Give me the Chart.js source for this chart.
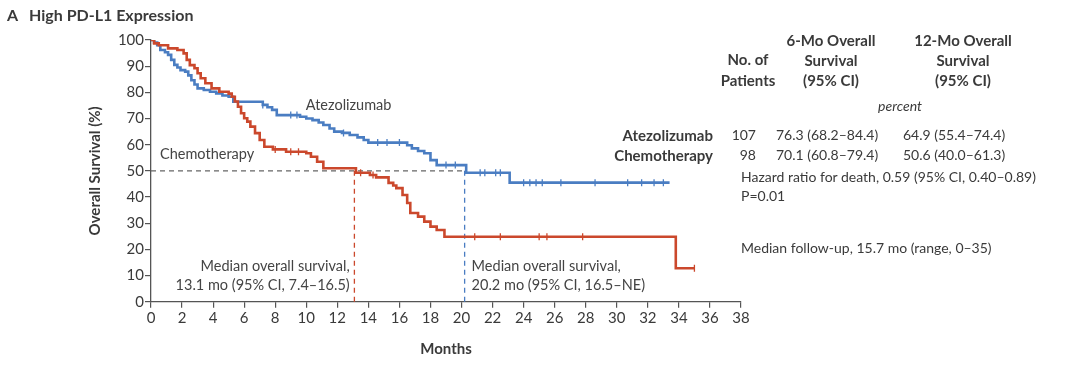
<!DOCTYPE html>
<html>
<head>
<meta charset="utf-8">
<script src="https://cdn.jsdelivr.net/npm/chart.js@4"></script>
<style>
  body { margin: 0; background: #fff; }
  #wrap { position: relative; width: 1080px; height: 366px; font-family: Lato, sans-serif; color: #3a3a3a; }
  .t { position: absolute; white-space: nowrap; line-height: 1; font-size: 14px; transform: translateY(-50%); }
  .c { transform: translate(-50%, -50%); text-align: center; }
  .r { transform: translate(-100%, -50%); text-align: right; }
  .b { font-weight: bold; font-size: 15px; }
  .h { font-weight: bold; font-size: 16px; }
  .i { font-style: italic; }
</style>
</head>
<body>
<div id="wrap">
  <canvas id="chart" width="1080" height="366"></canvas>
</div>
<script>
// Kaplan-Meier steps: month where the curve drops, survival (%) after it
const atezoMonths = [0, 0.2, 0.4, 0.6, 0.9, 1.1, 1.3, 1.5, 1.7, 1.9, 2.2, 2.4, 2.6, 2.8, 3.0, 3.4, 3.8, 4.2, 4.6, 5.0, 5.3,
  7.2, 7.5, 7.8, 8.1, 9.6, 10.0, 10.4, 10.8, 11.1, 11.5, 11.8, 12.3, 12.8, 13.3, 13.7, 14.0,
  16.5, 16.8, 17.2, 17.6, 18.0, 18.4, 20.3, 23.1, 33.4];
const atezoSurv = [100, 99, 98, 96.2, 95.3, 94.3, 92.4, 90.5, 89.5, 88.5, 87.9, 86.5, 84.6, 83, 81.5, 80.9, 80.2, 79.6, 78.8, 78.3, 76.4,
  75.2, 74.3, 73.3, 71.3, 70.7, 70, 69.4, 68.5, 67.5, 66.2, 65, 64.5, 63.7, 62.8, 61.8, 60.8,
  59.8, 58.6, 57.6, 56.7, 54.1, 52.2, 49.3, 45.5, 45.5];

const chemoMonths = [0, 0.2, 0.5, 1.1, 1.7, 2.1, 2.3, 2.5, 2.8, 3.0, 3.2, 3.5, 3.9, 4.4, 5.0, 5.2, 5.4, 5.6, 5.8, 6.0,
  6.2, 6.4, 6.7, 7.0, 7.3, 7.85, 8.7, 10.0, 10.3, 10.7, 11.1, 13.2, 14.1, 14.5, 15.3, 15.6, 15.8,
  16.2, 16.5, 16.7, 17.2, 17.6, 18.0, 18.4, 18.9, 33.8, 35];
const chemoSurv = [100, 98.7, 98, 96.8, 96.2, 94.9, 92.4, 90.4, 89.2, 87.3, 85.4, 83.5, 81.5, 80.2, 79.5, 78.3, 76.5, 74.5, 72, 70.1,
  68.8, 66.9, 64.4, 61.8, 59.2, 58.2, 57.3, 56.7, 55.4, 53.5, 51, 49.3, 48.4, 47.5, 45.4, 44.4, 43.4,
  40.8, 37.7, 33.9, 32.5, 30.6, 28.7, 27.4, 24.8, 12.8, 12.8];

// censored observations (months)
const atezoCensor = [7.2, 9.0, 9.4, 12.4, 14.6, 15.2, 16.0, 19.0, 19.6, 21.2, 21.5, 22.2, 22.5,
  24.0, 24.4, 24.8, 25.2, 26.4, 28.6, 30.7, 31.6, 32.4, 33.0];
const chemoCensor = [8.0, 9.0, 9.5, 13.5, 14.3, 20.85, 22.5, 25.0, 25.5, 27.8, 35];

const medianAtezo = 20.2;
const medianChemo = 13.1;

const tableHead = [
  ['No. of', 'Patients'],
  ['6-Mo Overall', 'Survival', '(95% CI)'],
  ['12-Mo Overall', 'Survival', '(95% CI)']
];
const tableRows = [
  ['Atezolizumab', '107', '76.3 (68.2–84.4)', '64.9 (55.4–74.4)'],
  ['Chemotherapy', '98', '70.1 (60.8–79.4)', '50.6 (40.0–61.3)']
];
const notes = ['Hazard ratio for death, 0.59 (95% CI, 0.40–0.89)', 'P=0.01', 'Median follow-up, 15.7 mo (range, 0–35)'];

const BLUE = '#4a7dc2';
const RED = '#cb482c';
const TEXT = '#3a3a3a';

function survAt(months, surv, t) {
  let v = surv[0];
  for (let i = 0; i < months.length; i++) if (months[i] <= t) v = surv[i];
  return v;
}
const pts = (m, s) => m.map((x, i) => ({x, y: s[i]}));
const censorPts = (c, m, s) => c.map(x => ({x, y: survAt(m, s, x)}));

// html text (title, table, notes)
const wrap = document.getElementById('wrap');
function put(text, x, y, cls) {
  const el = document.createElement('div');
  el.className = 't ' + (cls || '');
  el.textContent = text;
  el.style.left = x + 'px';
  el.style.top = y + 'px';
  wrap.appendChild(el);
}
put('A', 7, 15, 'h');
put('High PD-L1 Expression', 29, 15, 'h');
put(tableHead[0][0], 748, 59, 'b c');
put(tableHead[0][1], 748, 80, 'b c');
tableHead[1].forEach((s, i) => put(s, 831, 40 + i * 20, 'b c'));
tableHead[2].forEach((s, i) => put(s, 963, 40 + i * 20, 'b c'));
put('percent', 900, 106, 'i c');
tableRows.forEach((row, i) => {
  const y = 135 + i * 20;
  put(row[0], 713, y, 'b r');
  put(row[1], 756, y, 'r');
  put(row[2], 776, y);
  put(row[3], 903, y);
});
put(notes[0], 741, 177);
put(notes[1], 741, 196);
put(notes[2], 741, 248);

const guides = {
  id: 'guides',
  beforeDatasetsDraw(chart) {
    const {ctx, scales: {x, y}} = chart;
    ctx.save();
    ctx.lineWidth = 1.3;
    ctx.setLineDash([5, 4]);
    const y50 = y.getPixelForValue(50);
    ctx.strokeStyle = '#666';
    ctx.beginPath();
    ctx.moveTo(x.getPixelForValue(0), y50);
    ctx.lineTo(x.getPixelForValue(medianAtezo), y50);
    ctx.stroke();
    ctx.strokeStyle = RED;
    ctx.beginPath();
    ctx.moveTo(x.getPixelForValue(medianChemo), y.getPixelForValue(0));
    ctx.lineTo(x.getPixelForValue(medianChemo), y50);
    ctx.stroke();
    ctx.strokeStyle = BLUE;
    ctx.beginPath();
    ctx.moveTo(x.getPixelForValue(medianAtezo), y.getPixelForValue(0));
    ctx.lineTo(x.getPixelForValue(medianAtezo), y50);
    ctx.stroke();
    ctx.restore();
  },
  afterDraw(chart) {
    const {ctx, scales: {x, y}} = chart;
    ctx.save();
    ctx.fillStyle = '#444';
    ctx.font = '14.5px Lato';
    ctx.textBaseline = 'middle';
    ctx.textAlign = 'left';
    ctx.fillText('Atezolizumab', x.getPixelForValue(9.97), y.getPixelForValue(75.2));
    ctx.fillText('Chemotherapy', x.getPixelForValue(0.58), y.getPixelForValue(56.4));
    ctx.fillText('Median overall survival,', x.getPixelForValue(20.65), y.getPixelForValue(13.6));
    ctx.fillText('20.2 mo (95% CI, 16.5–NE)', x.getPixelForValue(20.65), y.getPixelForValue(6.4));
    ctx.textAlign = 'right';
    ctx.fillText('Median overall survival,', x.getPixelForValue(12.8), y.getPixelForValue(13.6));
    ctx.fillText('13.1 mo (95% CI, 7.4–16.5)', x.getPixelForValue(12.8), y.getPixelForValue(6.4));
    ctx.restore();
  }
};

const tickFont = {family: 'Lato', size: 15};
const titleFont = {family: 'Lato', size: 15, weight: 'bold'};

new Chart(document.getElementById('chart'), {
  type: 'line',
  data: {
    datasets: [
      {data: pts(chemoMonths, chemoSurv), stepped: true, borderColor: RED, borderWidth: 2.6, pointRadius: 0},
      {data: pts(atezoMonths, atezoSurv), stepped: true, borderColor: BLUE, borderWidth: 2.6, pointRadius: 0},
      {type: 'scatter', data: censorPts(chemoCensor, chemoMonths, chemoSurv), pointStyle: 'line', rotation: 90,
        pointRadius: 3.5, pointBorderWidth: 1.3, pointBorderColor: RED},
      {type: 'scatter', data: censorPts(atezoCensor, atezoMonths, atezoSurv), pointStyle: 'line', rotation: 90,
        pointRadius: 3.5, pointBorderWidth: 1.3, pointBorderColor: BLUE}
    ]
  },
  options: {
    responsive: false,
    animation: false,
    layout: {padding: {left: 86, top: 40, right: 339, bottom: 0}},
    plugins: {legend: {display: false}, tooltip: {enabled: false}},
    scales: {
      x: {
        type: 'linear', min: 0, max: 38,
        ticks: {stepSize: 2, font: tickFont, color: TEXT, padding: 1},
        grid: {drawOnChartArea: false, tickLength: 6, color: '#555', lineWidth: 1.2},
        border: {color: '#555', width: 1.3},
        title: {display: true, text: 'Months', font: titleFont, color: TEXT, padding: {top: 0, bottom: 8}},
        afterFit(s) { s.height = 64.3; }
      },
      y: {
        min: 0, max: 100,
        ticks: {stepSize: 10, font: tickFont, color: TEXT, padding: 1},
        grid: {drawOnChartArea: false, tickLength: 6, color: '#555', lineWidth: 1.2},
        border: {color: '#555', width: 1.3},
        title: {display: true, text: 'Overall Survival (%)', font: titleFont, color: TEXT, padding: {top: 0, bottom: 0}},
        afterFit(s) { s.width = 65; }
      }
    }
  },
  plugins: [guides]
});
</script>
</body>
</html>
